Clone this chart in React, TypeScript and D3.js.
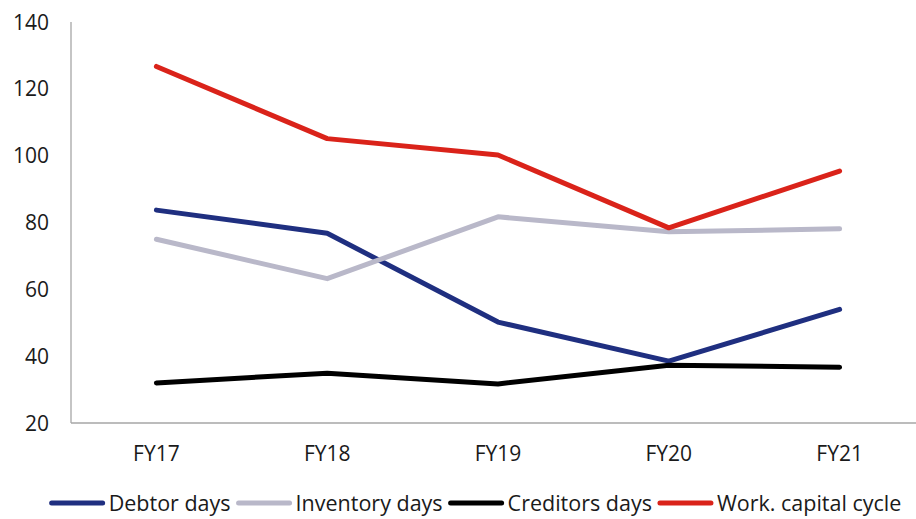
import React, { useEffect, useRef } from "react";
import * as d3 from "d3";

const years = ["FY17", "FY18", "FY19", "FY20", "FY21"];
const debtorDays = [83.7, 76.8, 50.2, 38.5, 54.0];
const inventoryDays = [75.0, 63.2, 81.7, 77.2, 78.1];
const creditorsDays = [32.0, 34.9, 31.7, 37.3, 36.7];
const workCapitalCycle = [126.7, 105.1, 100.2, 78.4, 95.4];
const yTicks = [20, 40, 60, 80, 100, 120, 140];

const seriesNames = ["Debtor days", "Inventory days", "Creditors days", "Work. capital cycle"];
const seriesColors = ["#1F2F80", "#B9B8C9", "#000000", "#DA231A"];

const W = 916;
const H = 519;
const FONT = "'Open Sans', sans-serif";

export default function App() {
  const ref = useRef<SVGSVGElement | null>(null);

  useEffect(() => {
    const svg = d3.select(ref.current);
    svg.selectAll("*").remove();

    const left = 71;
    const right = 925;
    const top = 22;
    const bottom = 423;

    const x = d3.scaleBand<string>().domain(years).range([left, right]);
    const y = d3.scaleLinear().domain([20, 140]).range([bottom, top]);

    // axes
    svg.append("line")
      .attr("x1", left).attr("x2", left)
      .attr("y1", top).attr("y2", bottom)
      .attr("stroke", "#A6A6A6").attr("stroke-width", 1.3);
    svg.append("line")
      .attr("x1", left).attr("x2", W)
      .attr("y1", bottom).attr("y2", bottom)
      .attr("stroke", "#A6A6A6").attr("stroke-width", 1.3);

    svg.append("g").selectAll("text").data(yTicks).join("text")
      .attr("x", 49)
      .attr("y", (d) => y(d))
      .attr("dy", "0.36em")
      .attr("text-anchor", "end")
      .attr("font-family", FONT)
      .attr("font-size", 21)
      .attr("fill", "#1a1a1a")
      .text((d) => d);

    svg.append("g").selectAll("text").data(years).join("text")
      .attr("x", (d) => (x(d) as number) + x.bandwidth() / 2)
      .attr("y", 461)
      .attr("text-anchor", "middle")
      .attr("font-family", FONT)
      .attr("font-size", 21)
      .attr("fill", "#1a1a1a")
      .text((d) => d);

    const allSeries = [debtorDays, inventoryDays, creditorsDays, workCapitalCycle];
    const line = d3.line<number>()
      .x((_, i) => (x(years[i]) as number) + x.bandwidth() / 2)
      .y((d) => y(d));

    allSeries.forEach((s, i) => {
      svg.append("path")
        .attr("d", line(s) as string)
        .attr("fill", "none")
        .attr("stroke", seriesColors[i])
        .attr("stroke-width", 5)
        .attr("stroke-linecap", "round")
        .attr("stroke-linejoin", "round");
    });

    // legend laid out from measured text widths
    const legend = svg.append("g");
    const lineLen = 55;
    const gapLT = 4;
    const gapTL = 6;
    const ly = 503;
    let cursor = 0;
    const items: { lx: number; tx: number; i: number }[] = [];
    const texts = seriesNames.map((name) =>
      legend.append("text")
        .attr("font-family", FONT)
        .attr("font-size", 21.5)
        .attr("fill", "#1a1a1a")
        .attr("dy", "0.35em")
        .attr("y", ly)
        .text(name)
    );
    texts.forEach((t, i) => {
      const w = (t.node() as SVGTextElement).getComputedTextLength();
      items.push({ lx: cursor, tx: cursor + lineLen + gapLT, i });
      cursor += lineLen + gapLT + w + gapTL;
    });
    const total = cursor - gapTL;
    const start = 475.5 - total / 2;
    items.forEach(({ lx, tx, i }) => {
      legend.append("line")
        .attr("x1", start + lx + 2).attr("x2", start + lx + lineLen - 2)
        .attr("y1", ly).attr("y2", ly)
        .attr("stroke", seriesColors[i])
        .attr("stroke-width", 5)
        .attr("stroke-linecap", "round");
      texts[i].attr("x", start + tx);
    });
  }, []);

  return (
    <svg
      ref={ref}
      width={W}
      height={H}
      style={{ position: "absolute", left: 0, top: 0, background: "#fff" }}
    />
  );
}
